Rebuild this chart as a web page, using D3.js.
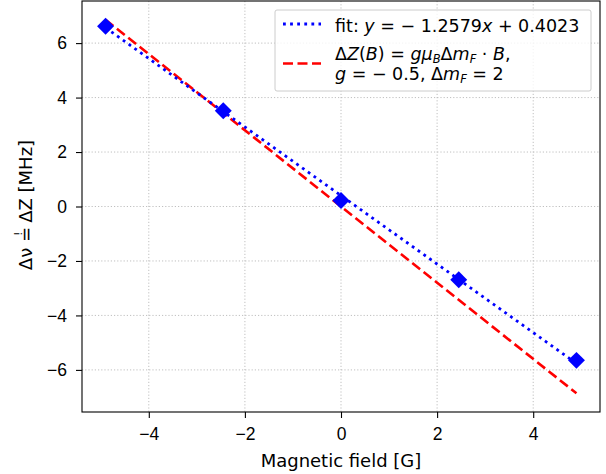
<!DOCTYPE html>
<html>
<head>
<meta charset="utf-8">
<script src="https://cdn.jsdelivr.net/npm/d3@7"></script>
<style>
  body { margin: 0; background: #fff; }
  svg { font-family: "DejaVu Sans", sans-serif; }
  .axis text { font-size: 17.5px; fill: #000; }
  .axis path, .axis line { stroke: #000; stroke-width: 1.1; }
  .grid line { stroke: #b0b0b0; stroke-width: 0.8; stroke-dasharray: 1.2,2; }
</style>
</head>
<body>
<div id="graph"></div>
<script>
'use strict';

// measured field values [G] and frequency shifts [MHz]
var fieldValues = [-4.9, -2.45, 0, 2.45, 4.9];
var shiftValues = [6.62, 3.52, 0.22, -2.69, -5.65];

// linear fit y = a x + b
var fitSlope = -1.2579, fitOffset = 0.4023;
// Zeeman: g * muB * dmF, muB = 1.3996 MHz/G
var gFactor = -0.5, deltaMF = 2, muB = 1.3996;

var xTicks = [-4, -2, 0, 2, 4];
var yTicks = [-6, -4, -2, 0, 2, 4, 6];

var W = 606, H = 474,
    padl = 82, padr = 6, padt = 1, padb = 62,
    w = W - padl - padr,
    h = H - padt - padb;

var x = d3.scaleLinear().domain([-5.39, 5.39]).range([0, w]),
    y = d3.scaleLinear().domain([-7.546, 7.546]).range([h, 0]);

var svg = d3.select('#graph')
  .append('svg')
  .attr('width', W)
  .attr('height', H);

var vis = svg.append('g')
  .attr('transform', 'translate(' + padl + ',' + padt + ')');

// grid
var grid = vis.append('g').attr('class', 'grid');
grid.selectAll('line.gx')
  .data(xTicks)
  .enter().append('line')
  .attr('x1', (d) => x(d)).attr('x2', (d) => x(d))
  .attr('y1', 0).attr('y2', h);
grid.selectAll('line.gy')
  .data(yTicks)
  .enter().append('line')
  .attr('y1', (d) => y(d)).attr('y2', (d) => y(d))
  .attr('x1', 0).attr('x2', w);

// lines
var lineX = d3.extent(fieldValues);
var line = d3.line().x((d) => x(d[0])).y((d) => y(d[1]));

var redDash = '10,4.5', blueDot = '2.8,4.3';

vis.append('path')
  .datum(lineX.map((b) => [b, gFactor * muB * deltaMF * b]))
  .attr('d', line)
  .attr('fill', 'none')
  .attr('stroke', '#ff0000')
  .attr('stroke-width', 2.6)
  .attr('stroke-dasharray', redDash);

vis.append('path')
  .datum(lineX.map((b) => [b, fitSlope * b + fitOffset]))
  .attr('d', line)
  .attr('fill', 'none')
  .attr('stroke', '#0000ff')
  .attr('stroke-width', 2.8)
  .attr('stroke-dasharray', blueDot);

// markers
var diamond = d3.symbol().type(d3.symbolSquare).size(144);
vis.selectAll('path.marker')
  .data(fieldValues)
  .enter().append('path')
  .attr('class', 'marker')
  .attr('d', diamond)
  .attr('fill', '#0000ff')
  .attr('transform', (d, i) => 'translate(' + x(d) + ',' + y(shiftValues[i]) + ') rotate(45)');

// frame
vis.append('rect')
  .attr('width', w).attr('height', h)
  .attr('fill', 'none')
  .attr('stroke', '#000')
  .attr('stroke-width', 1.1);

// axes
var fmt = (d) => (d < 0 ? '\u2212' + Math.abs(d) : '' + d);
vis.append('g')
  .attr('class', 'x axis')
  .attr('transform', 'translate(0,' + h + ')')
  .call(d3.axisBottom(x).tickValues(xTicks).tickFormat(fmt).tickSize(6).tickPadding(10))
  .call((g) => g.select('.domain').remove());

vis.append('g')
  .attr('class', 'y axis')
  .call(d3.axisLeft(y).tickValues(yTicks).tickFormat(fmt).tickSize(6).tickPadding(9))
  .call((g) => g.select('.domain').remove());

// axis labels
svg.append('text')
  .attr('x', padl + w / 2)
  .attr('y', 467)
  .attr('text-anchor', 'middle')
  .style('font-size', '18px')
  .text('Magnetic field [G]');

var ylab = svg.append('text')
  .attr('transform', 'translate(32,' + 205 + ') rotate(-90)')
  .attr('text-anchor', 'middle')
  .style('font-size', '18px');
ylab.append('tspan').text('\u0394\u03bd ');
ylab.append('tspan').text('=');
ylab.append('tspan').attr('dx', -9).attr('dy', -10).style('font-size', '11px').text('!');
ylab.append('tspan').attr('dx', 3).attr('dy', 10).text(' \u0394Z [MHz]');

// legend
var leg = svg.append('g').attr('transform', 'translate(275,10)');
leg.append('rect')
  .attr('width', 316).attr('height', 81)
  .attr('rx', 2)
  .attr('fill', '#fff').attr('fill-opacity', 0.8)
  .attr('stroke', '#cccccc').attr('stroke-width', 1);

leg.append('line')
  .attr('x1', 8).attr('x2', 46).attr('y1', 14).attr('y2', 14)
  .attr('stroke', '#0000ff').attr('stroke-width', 2.8)
  .attr('stroke-dasharray', blueDot);
leg.append('line')
  .attr('x1', 8).attr('x2', 46).attr('y1', 53.5).attr('y2', 53.5)
  .attr('stroke', '#ff0000').attr('stroke-width', 2.6)
  .attr('stroke-dasharray', redDash);

function mathText(parent, tx, ty, parts) {
  var t = parent.append('text').attr('x', tx).attr('y', ty).style('font-size', '17.5px');
  parts.forEach(function (p) {
    var s = t.append('tspan').text(p.t);
    if (p.i) s.style('font-style', 'italic');
    if (p.sub) s.style('font-size', '11.5px').attr('dy', 3);
    if (p.up) s.attr('dy', -3);
  });
  return t;
}

mathText(leg, 60, 21.5, [
  { t: 'fit: ' }, { t: 'y', i: 1 }, { t: ' = \u2212 1.2579' }, { t: 'x', i: 1 }, { t: ' + 0.4023' }
]);
mathText(leg, 60, 49.5, [
  { t: '\u0394' }, { t: 'Z', i: 1 }, { t: '(' }, { t: 'B', i: 1 }, { t: ') = ' },
  { t: 'g\u03bc', i: 1 }, { t: 'B', i: 1, sub: 1 }, { t: '\u0394', up: 1 }, { t: 'm', i: 1 },
  { t: 'F', i: 1, sub: 1 }, { t: ' \u00b7 ', up: 1 }, { t: 'B', i: 1 }, { t: ',' }
]);
mathText(leg, 60, 70, [
  { t: 'g', i: 1 }, { t: ' = \u2212 0.5, \u0394' }, { t: 'm', i: 1 },
  { t: 'F', i: 1, sub: 1 }, { t: ' = 2', up: 1 }
]);
</script>
</body>
</html>
